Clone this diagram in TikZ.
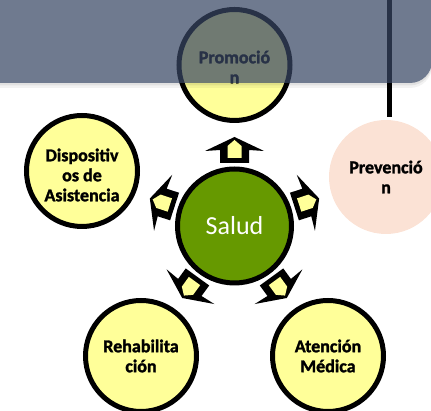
\documentclass[tikz,border=0pt]{standalone}
\usepackage{fontspec}
\setmainfont{Carlito}[BoldFeatures={FakeBold=1.6}]
\definecolor{lyellow}{RGB}{255,255,153}
\definecolor{sgreen}{RGB}{102,153,0}
\definecolor{peach}{RGB}{251,226,213}
\definecolor{panelc}{RGB}{59,74,105}
\tikzset{
  bubble/.style={circle, draw=black, line width=5pt, fill=lyellow, minimum size=111pt, inner sep=0pt},
  lbl/.style={align=center, inner sep=0pt, font=\fontsize{18}{20}\selectfont\bfseries},
  outarrow/.style={fill=black},
  inarrow/.style={fill=lyellow}
}
\begin{document}
\begin{tikzpicture}[x=1pt,y=1pt]
\useasboundingbox (0,0) rectangle (431,411);
% promo circle (under panel)
\node[bubble] (promo) at (234.5,346) {};
\node[lbl] (promot) at (234.5,344) {Promoció\\n};
% vertical line
\coordinate (ltop) at (389,420);
\coordinate (lbot) at (389,294);
\draw[line width=5pt] (ltop) -- (lbot);
% shadow + panel
\fill[black,opacity=0.05,rounded corners=22pt] (-40,323) rectangle (432,470);
\fill[black,opacity=0.07,rounded corners=22pt] (-40,325.5) rectangle (432,470);
\fill[panelc,opacity=0.68,rounded corners=22pt] (-40,328) rectangle (432,470);
% prevencion
\node[circle, fill=peach, minimum size=114pt, inner sep=0pt] (prev) at (386,234) {};
\node[lbl] (prevt) at (386,234) {Prevenció\\n};
% others
\node[bubble] (disp) at (82,240) {};
\node[lbl] (dispt) at (82,236) {Dispositiv\\os de\\Asistencia};
\node[bubble] (rehab) at (141,55) {};
\node[lbl] (rehabt) at (141,55) {Rehabilita\\ción};
\node[bubble] (aten) at (328,55) {};
\node[lbl] (atent) at (328,55) {Atención\\Médica};
% salud
\node[circle, draw=black, line width=5pt, fill=sgreen, minimum size=114pt, inner sep=0pt,
      text=white, font=\fontsize{26}{30}\selectfont] (salud) at (234.5,185) {Salud};
% arrows
\foreach \a in {90,162,18,234,306}{
  \begin{scope}[shift={(salud.center)}, rotate=\a]
    \fill[outarrow] (63,-14.5) -- (76,-14.5) -- (75,-29.5) -- (89,0) -- (75,29.5) -- (76,14.5) -- (63,14.5) -- cycle;
    \fill[inarrow] (68,-7) -- (80,-7) -- (86,0) -- (80,7) -- (68,7) -- cycle;
  \end{scope}
}
\end{tikzpicture}
\end{document}
